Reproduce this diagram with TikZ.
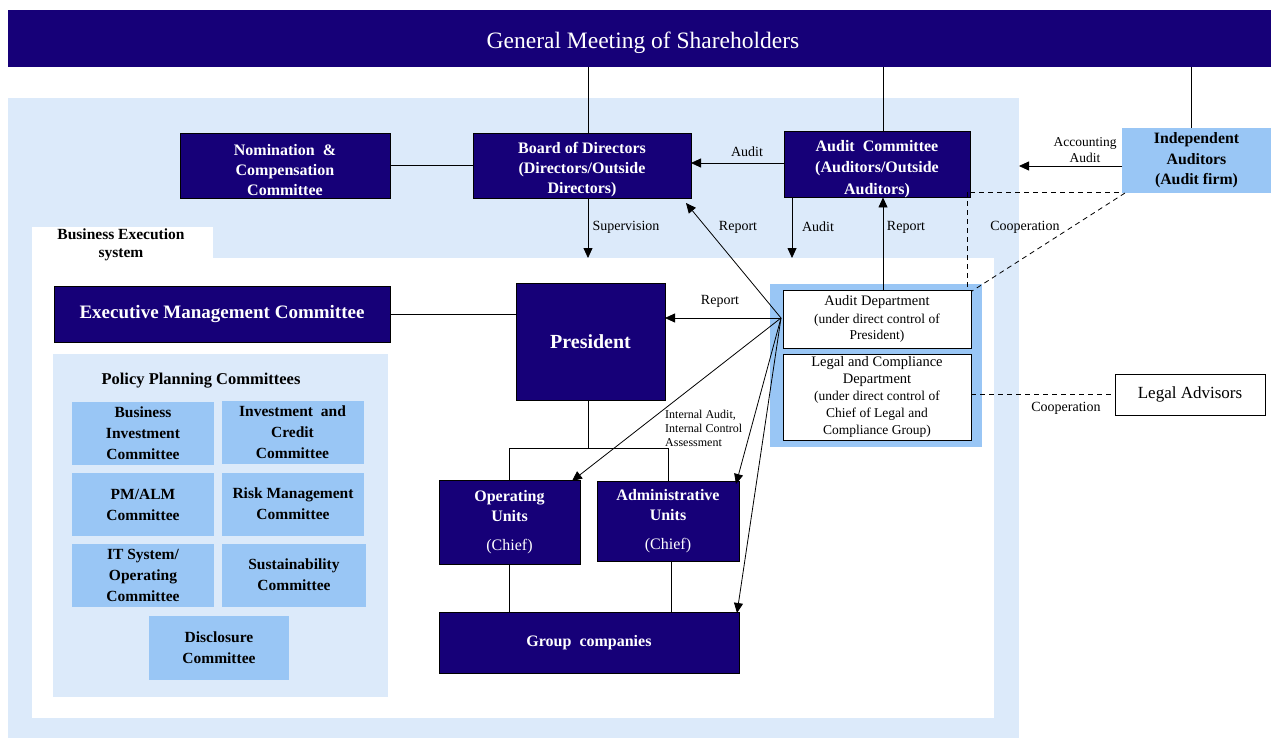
\documentclass[tikz,border=0pt]{standalone}
\usepackage{fontspec}
\setmainfont{Liberation Serif}
\usetikzlibrary{arrows.meta,calc}
\definecolor{navy}{RGB}{22,0,120}
\definecolor{pale}{RGB}{220,234,250}
\definecolor{midblue}{RGB}{153,198,245}
\newcommand{\mystrut}{\rule{0pt}{19.5pt}}
\tikzset{
  navybox/.style={draw=black, fill=navy, text=white, font=\fontsize{16}{20}\selectfont\bfseries, align=center, inner sep=0pt, outer sep=0pt},
  combox/.style={fill=midblue, text=black, font=\fontsize{15.5}{21}\selectfont\bfseries, align=center, inner sep=0pt, outer sep=0pt, minimum width=142pt, minimum height=63pt},
  whitebox/.style={draw=black, fill=white, align=center, inner sep=0pt, outer sep=0pt, line width=0.8pt},
  conn/.style={line width=0.8pt},
  arr/.style={line width=0.8pt, -{Triangle[length=10pt,width=9pt]}},
  dashline/.style={line width=0.8pt, dash pattern=on 5pt off 4pt},
  lbl/.style={font=\fontsize{14}{16}\selectfont, inner sep=0pt},
}
\begin{document}
\begin{tikzpicture}[x=1pt,y=-1pt]
\useasboundingbox (0,0) rectangle (1271,738);
\fill[white] (0,0) rectangle (1271,738);
% regions
\fill[pale] (8,98) rectangle (1019,738);
\fill[white] (32,258) rectangle (994,718);
\fill[white] (32,227) rectangle (213,258);
\node[font=\fontsize{15.5}{18}\selectfont\bfseries, align=center, inner sep=0pt] (bes) at (121,245) {Business Execution\\system};
% top bar
\node[fill=navy, inner sep=0pt, outer sep=0pt, minimum width=1263pt, minimum height=57pt] (top) at (639.5,38.5) {};
\node[text=white, inner sep=0pt, font=\fontsize{23.5}{26}\selectfont] (toptext) at (643,43) {General Meeting of Shareholders};
% top row
\node[navybox, minimum width=210pt, minimum height=65pt] (nom) at (285,165.5) {\mystrut Nomination \ \&\\Compensation\\Committee};
\node[navybox, minimum width=218pt, minimum height=65pt] (board) at (582,165.5) {\mystrut Board of Directors\\(Directors/Outside\\Directors)};
\node[navybox, minimum width=186pt, minimum height=65pt, font=\fontsize{16}{21.5}\selectfont\bfseries] (auditc) at (877,164.5) {\mystrut Audit \ Committee\\(Auditors/Outside\\Auditors)};
\node[fill=midblue, font=\fontsize{15.8}{20.5}\selectfont\bfseries, align=center, inner sep=0pt, outer sep=0pt, minimum width=149pt, minimum height=65pt] (indep) at (1196.5,160.5) {Independent\\Auditors\\(Audit firm)};
% execution
\node[navybox, minimum width=336pt, minimum height=56pt, font=\fontsize{19}{22}\selectfont\bfseries] (emc) at (222,314) {Executive Management Committee};
\node[navybox, minimum width=149pt, minimum height=117pt, font=\fontsize{20}{22}\selectfont\bfseries] (pres) at (590.5,341.5) {President};
% audit/legal group
\node[fill=midblue, inner sep=0pt, outer sep=0pt, minimum width=212pt, minimum height=163pt] (grp) at (876,365.5) {};
\node[whitebox, minimum width=188pt, minimum height=58pt, font=\fontsize{13.5}{16.5}\selectfont] (auditd) at (877,319) {{\fontsize{14.5}{17}\selectfont Audit Department}\\[1.5pt](under direct control of\\President)};
\node[whitebox, minimum width=188pt, minimum height=86pt, font=\fontsize{13.5}{17}\selectfont] (legal) at (877,397) {{\fontsize{14.5}{17}\selectfont Legal and Compliance}\\{\fontsize{14.5}{17}\selectfont Department}\\(under direct control of\\Chief of Legal and\\Compliance Group)};
\node[whitebox, minimum width=150pt, minimum height=41pt, font=\fontsize{17}{19}\selectfont] (ladv) at (1190,394.5) {Legal Advisors};
% units
\node[navybox, minimum width=141pt, minimum height=84pt] (opu) at (509.5,522) {Operating\\Units\\[9pt]{\mdseries(Chief)}};
\node[navybox, minimum width=142pt, minimum height=80pt] (admu) at (668,521) {Administrative\\Units\\[9pt]{\mdseries(Chief)}};
\node[navybox, minimum width=300pt, minimum height=61pt] (grpco) at (589,642.5) {Group \ companies};
% policy planning
\node[fill=pale, inner sep=0pt, outer sep=0pt, minimum width=335pt, minimum height=343pt] (ppc) at (220.5,525.5) {};
\node[font=\fontsize{16.5}{18}\selectfont\bfseries, inner sep=0pt] (ppct) at (201,381) {Policy Planning Committees};
\node[combox] (bi) at (143,433.5) {Business\\Investment\\Committee};
\node[combox] (ic) at (292.5,432.5) {Investment \ and\\Credit\\Committee};
\node[combox] (pm) at (143,504.5) {PM/ALM\\Committee};
\node[combox] (rm) at (293,504) {Risk Management\\Committee};
\node[combox] (it) at (143,575.5) {IT System/\\Operating\\Committee};
\node[combox, minimum width=144pt] (su) at (294,575) {Sustainability\\Committee};
\node[combox, minimum width=140pt, minimum height=64pt] (di) at (219,648) {Disclosure\\Committee};
% connectors from top
\draw[conn] ([xshift=6pt]board.north) -- ([xshift=6pt]board.north |- top.south);
\draw[conn] ([xshift=6pt]auditc.north) -- ([xshift=6pt]auditc.north |- top.south);
\draw[conn] ([xshift=-5pt]indep.north) -- ([xshift=-5pt]indep.north |- top.south);
\draw[conn] (nom.east) -- (board.west);
\draw[arr] ([yshift=1.5pt]auditc.west) -- ([yshift=1.5pt]auditc.west -| board.east);
\node[lbl] (laudit1) at (747,152) {Audit};
\coordinate (accend) at (1019,166);
\draw[arr] (indep.west |- accend) -- (accend);
\node[font=\fontsize{13.5}{16}\selectfont, align=center, inner sep=0pt] (lacc) at (1085,150) {Accounting\\Audit};
% dashed cooperation
\draw[dashline] ([yshift=5pt]auditc.south east) -- ([yshift=5pt]auditc.south east -| indep.west);
\draw[dashline] ([xshift=-3pt,yshift=5pt]auditc.south east) -- ([xshift=-4pt]auditd.north east);
\draw[dashline] ([xshift=3pt]indep.south west) -- ([xshift=1pt,yshift=-1pt]auditd.north east);
\node[lbl] (lcoop1) at (1025,227) {Cooperation};
\draw[dashline] (legal.east |- ladv.west) -- (ladv.west);
\node[lbl] (lcoop2) at (1066,408) {Cooperation};
% supervision / audit / report
\coordinate (supend) at (588,258);
\draw[arr] ([xshift=6pt]board.south) -- (supend);
\node[lbl] (lsup) at (626,227) {Supervision};
\coordinate (audend) at (792,258);
\draw[arr] (auditc.south west -| audend) -- (audend);
\node[lbl] (laudit2) at (818,227) {Audit};
\draw[arr] ([xshift=6pt]auditd.north) -- ([xshift=6pt]auditd.north |- auditc.south);
\node[lbl] (lrep2) at (906,227) {Report};
% from audit department
\coordinate (src) at (781,318);
\draw[arr] (src) -- (src -| pres.east);
\node[lbl] (lrep3) at (720,301) {Report};
\draw[arr] (src) -- ([xshift=-5pt,yshift=-5pt]board.south east);
\node[lbl] (lrep1) at (738,227) {Report};
\draw[arr] (src) -- ([xshift=-8pt,yshift=-1pt]opu.north east);
\draw[arr] (src) -- ([xshift=-3pt,yshift=-3pt]admu.north east);
\draw[arr] (src) -- ([xshift=-2pt,yshift=-1pt]grpco.north east);
\node[font=\fontsize{12}{14}\selectfont, align=left, inner sep=0pt, anchor=west] (lint) at (665,428) {Internal Audit,\\Internal Control\\Assessment};
% tree
\coordinate (bra) at (588,448);
\draw[conn] ([xshift=-2.5pt]pres.south) -- ([xshift=-2.5pt]pres.south |- bra);
\draw[conn] (opu.north) |- (admu.north |- bra) -- (admu.north);
\draw[conn] (opu.south) -- (opu.south |- grpco.north);
\draw[conn] ([xshift=3pt]admu.south) -- ([xshift=3pt]admu.south |- grpco.north);
\draw[conn] (emc.east) -- (emc.east -| pres.west);
\end{tikzpicture}
\end{document}
